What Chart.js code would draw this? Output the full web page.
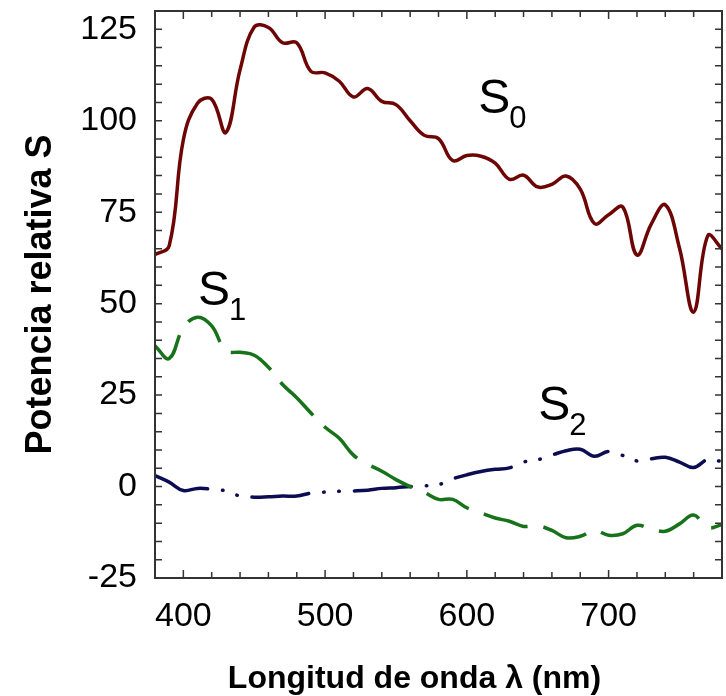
<!DOCTYPE html>
<html>
<head>
<meta charset="utf-8">
<script src="https://cdn.jsdelivr.net/npm/chart.js@4.4.0/dist/chart.umd.min.js"></script>
<style>
  html,body{margin:0;padding:0;background:#fff;overflow:hidden;}
  #wrap{width:726px;height:696px;}
</style>
</head>
<body>
<div id="wrap"><canvas id="chart" width="726" height="696"></canvas></div>
<script>
// CIE daylight components, 10 nm steps
const wavelengths = [380,390,400,410,420,430,440,450,460,470,480,490,500,510,520,530,540,550,560,570,
  580,590,600,610,620,630,640,650,660,670,680,690,700,710,720,730,740,750,760,770,780];
const s0 = [63.4,65.8,94.8,104.8,105.9,96.8,113.9,125.6,125.5,121.3,121.3,113.5,113.1,110.8,106.5,108.8,105.3,104.4,100.0,96.0,
  95.1,89.1,90.5,90.3,88.4,84.0,85.1,81.9,82.6,84.9,81.3,71.9,74.3,76.4,63.3,71.7,77.0,65.2,47.7,68.6,65.0];
const s1 = [38.5,35.0,43.4,46.3,43.9,37.1,36.7,35.9,32.6,27.9,24.3,20.1,16.2,13.2,8.6,6.1,4.2,1.9,0.0,-1.6,
  -3.5,-3.5,-5.8,-7.2,-8.6,-9.5,-10.9,-10.7,-12.0,-14.0,-13.6,-12.0,-13.3,-12.9,-10.6,-11.6,-12.2,-10.2,-7.8,-11.2,-10.4];
const s2 = [3.0,1.2,-1.1,-0.5,-0.7,-1.2,-2.6,-2.9,-2.8,-2.6,-2.6,-1.8,-1.5,-1.3,-1.2,-1.0,-0.5,-0.3,0.0,0.2,
  0.5,2.1,3.2,4.1,4.7,5.1,6.7,7.3,8.6,9.8,10.2,8.3,9.6,8.5,7.0,7.6,8.0,6.7,5.2,7.4,6.8];

const xLabels = [400,500,600,700];
const yLabels = [-25,0,25,50,75,100,125];
const subscripts = ['0','1','2'];

const FONT = '"Liberation Sans", Arial, sans-serif';

function pts(arr){ return wavelengths.map((w,i)=>({x:w, y:arr[i]})); }

// box round the plot with inward ticks on every side
const frameTicks = {
  id:'frameTicks',
  afterDraw(chart){
    const {ctx, chartArea:a, scales:{x,y}} = chart;
    ctx.save();
    ctx.strokeStyle = '#333';
    ctx.lineWidth = 1.5;
    ctx.beginPath();
    x.ticks.forEach(t=>{
      const px = x.getPixelForValue(t.value);
      const len = t.value % 100 === 0 ? 8 : 6;
      ctx.moveTo(px, a.bottom); ctx.lineTo(px, a.bottom - len);
      ctx.moveTo(px, a.top); ctx.lineTo(px, a.top + len);
    });
    y.ticks.forEach(t=>{
      const py = y.getPixelForValue(t.value);
      ctx.moveTo(a.left, py); ctx.lineTo(a.left + 7, py);
      ctx.moveTo(a.right, py); ctx.lineTo(a.right - 7, py);
    });
    ctx.stroke();
    ctx.lineWidth = 2;
    ctx.beginPath();
    ctx.rect(a.left, a.top, a.right - a.left, a.bottom - a.top);
    ctx.stroke();
    ctx.restore();
  }
};

// S0 / S1 / S2 tags next to the curves, plus the x title
const seriesTags = {
  id:'seriesTags',
  afterDraw(chart){
    const {ctx, chartArea:a, scales:{x,y}} = chart;
    const spots = chart.options.plugins.seriesTags.spots;
    ctx.save();
    ctx.fillStyle = '#000';
    ctx.textBaseline = 'alphabetic';
    ctx.textAlign = 'left';
    spots.forEach((p,i)=>{
      const px = x.getPixelForValue(p[0]);
      const py = y.getPixelForValue(p[1]);
      ctx.font = '48px ' + FONT;
      ctx.fillText('S', px, py);
      const w = ctx.measureText('S').width;
      ctx.font = '31px ' + FONT;
      ctx.fillText(subscripts[i], px + w - 1, py + 15);
    });
    ctx.font = 'bold 32px ' + FONT;
    ctx.textAlign = 'center';
    ctx.fillText('Longitud de onda λ (nm)', 414.5, 688);
    ctx.restore();
  }
};

new Chart(document.getElementById('chart'), {
  type:'line',
  data:{
    datasets:[
      {label:'S0', data:pts(s0), borderColor:'#6e0505', borderWidth:3.5, tension:0.4, pointRadius:0},
      {label:'S1', data:pts(s1), borderColor:'#17721a', borderWidth:3.5, tension:0.4, pointRadius:0,
        borderDash:[46,16]},
      {label:'S2', data:pts(s2), borderColor:'#0c0c52', borderWidth:3.5, tension:0.4, pointRadius:0,
        borderDash:[57,15,0.5,14.5,0.5,15], borderCapStyle:'round'}
    ]
  },
  options:{
    responsive:false,
    animation:false,
    layout:{padding:{top:11, right:4, left:0, bottom:0}},
    plugins:{
      legend:{display:false},
      tooltip:{enabled:false},
      seriesTags:{spots:[[608,102.1],[410.4,49.6],[650.3,18.1]]}
    },
    scales:{
      x:{
        type:'linear', min:380, max:780,
        grid:{display:false, drawTicks:false},
        border:{display:false},
        afterFit(s){ s.height = 118; s.paddingLeft = 0; s.paddingRight = 0; },
        ticks:{
          stepSize:20, autoSkip:false, maxRotation:0, padding:18,
          color:'#000', font:{family:FONT, size:34},
          callback:v => xLabels.includes(v) ? String(v) : ''
        }
      },
      y:{
        min:-25, max:130,
        grid:{display:false, drawTicks:false},
        border:{display:false},
        afterFit(s){ s.width = 155; s.paddingTop = 0; s.paddingBottom = 0; },
        ticks:{
          stepSize:5, autoSkip:false, padding:18,
          color:'#000', font:{family:FONT, size:34},
          callback:v => yLabels.includes(v) ? String(v) : ''
        },
        title:{
          display:true, text:'Potencia relativa S', color:'#000',
          font:{family:FONT, size:36, weight:'bold'},
          padding:{top:19, bottom:0}
        }
      }
    }
  },
  plugins:[frameTicks, seriesTags]
});
</script>
</body>
</html>
